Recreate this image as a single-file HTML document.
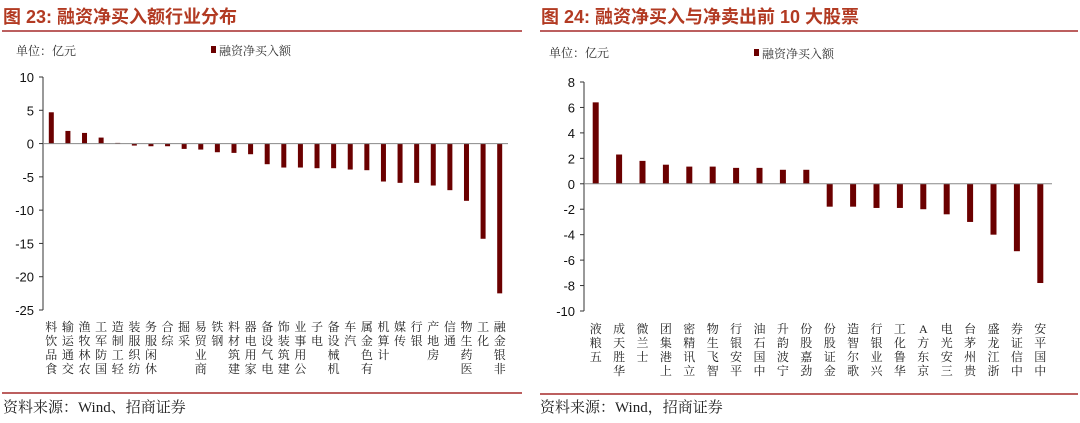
<!DOCTYPE html>
<html><head><meta charset="utf-8"><style>
body{margin:0;width:1080px;height:418px;background:#fff;overflow:hidden;font-family:"Liberation Sans","Noto Sans CJK SC",sans-serif;}
svg text{font-family:"Liberation Sans","Noto Sans CJK SC",sans-serif;}
svg text.serif{font-family:"Liberation Serif","Noto Serif CJK SC",serif;}
</style></head><body>
<svg width="1080" height="418">
<g>
<text x="3" y="23" font-size="18" font-weight="bold" fill="#b23a22">图 23:  融资净买入额行业分布</text>
<line x1="2" y1="31" x2="522" y2="31" stroke="#a52a2a" stroke-width="1.5"/>
<text class="serif" x="16" y="55" font-size="12" fill="#333">单位：亿元</text>
<rect x="211" y="46" width="5" height="7" fill="#6b0000"/>
<text class="serif" x="219" y="55" font-size="12" fill="#333">融资净买入额</text>
<g id="L"></g>
<line x1="2" y1="393" x2="522" y2="393" stroke="#a52a2a" stroke-width="1.5"/>
<text class="serif" x="3" y="412" font-size="15" fill="#222">资料来源：Wind、招商证券</text>
</g>
<g>
<text x="541" y="23" font-size="18" font-weight="bold" fill="#b23a22">图 24:  融资净买入与净卖出前 10 大股票</text>
<line x1="540" y1="31" x2="1078" y2="31" stroke="#a52a2a" stroke-width="1.5"/>
<text class="serif" x="549" y="57" font-size="12" fill="#333">单位：亿元</text>
<rect x="754" y="49" width="5" height="7" fill="#6b0000"/>
<text class="serif" x="762" y="58" font-size="12" fill="#333">融资净买入额</text>
<g id="R"></g>
<line x1="540" y1="394" x2="1078" y2="394" stroke="#a52a2a" stroke-width="1.5"/>
<text class="serif" x="540" y="412" font-size="15" fill="#222">资料来源：Wind，招商证券</text>
</g>
</svg>
<script>
const leftCategories=["食品饮料","交通运输","农林牧渔","国防军工","轻工制造","纺织服装","休闲服务","综合","采掘","商业贸易","钢铁","建筑材料","家用电器","电气设备","建筑装饰","公用事业","电子","机械设备","汽车","有色金属","计算机","传媒","银行","房地产","通信","医药生物","化工","非银金融"];
const leftValues=[4.7,1.9,1.6,0.9,0.1,-0.3,-0.4,-0.4,-0.8,-0.9,-1.3,-1.4,-1.6,-3.1,-3.6,-3.6,-3.7,-3.7,-3.9,-4.0,-5.7,-5.9,-5.9,-6.3,-7.0,-8.6,-14.3,-22.5];
const leftTicks=[10,5,0,-5,-10,-15,-20,-25];
const rightCategories=["五粮液","华胜天成","士兰微","上港集团","立讯精密","智飞生物","平安银行","中国石油","宁波韵升","劲嘉股份","金证股份","歌尔智造","兴业银行","华鲁化工","京东方A","三安光电","贵州茅台","浙江龙盛","中信证券","中国平安"];
const rightValues=[6.4,2.3,1.8,1.5,1.35,1.35,1.25,1.25,1.1,1.1,-1.8,-1.8,-1.9,-1.9,-2.0,-2.4,-3.0,-4.0,-5.3,-7.8];
const rightTicks=[8,6,4,2,0,-2,-4,-6,-8,-10];
const NS="http://www.w3.org/2000/svg";
function mk(tag,attrs,parent){const e=document.createElementNS(NS,tag);for(const k in attrs)e.setAttribute(k,attrs[k]);parent.appendChild(e);return e;}
function chart(g,cats,vals,ticks,x0,x1,yTop,yBot,labelTop,bw,prefix){
  const vmax=ticks[0],vmin=ticks[ticks.length-1];
  const y=v=>yTop+(vmax-v)/(vmax-vmin)*(yBot-yTop);
  const step=(x1-x0)/cats.length;
  const xc=i=>x0+step*(i+0.5);
  const ax=mk('line',{x1:x0,y1:yTop,x2:x0,y2:yBot,stroke:'#333','stroke-width':1},g);
  
  
  ticks.forEach(t=>{
    mk('line',{x1:x0-4,y1:y(t),x2:x0,y2:y(t),stroke:'#333'},g);
    const tx=mk('text',{x:x0-9,y:y(t)+5,'font-size':13,'text-anchor':'end',fill:'#111'},g);
    tx.textContent=t;
    
    
  });
  vals.forEach((v,i)=>{
    const r=mk('rect',{x:xc(i)-bw/2,y:Math.min(y(v),y(0)),width:bw,height:Math.abs(y(v)-y(0)),fill:'#6b0000'},g);
    
    
  });
  const zl=mk('line',{x1:x0,y1:y(0),x2:x1,y2:y(0),stroke:'#888','stroke-width':1},g);
  
  
  cats.forEach((c,i)=>{
    const chars=[...c].reverse();
    const tg=mk('g',{},g);
    
    
    chars.forEach((ch,j)=>{
      const t=mk('text',{class:'serif',x:xc(i),y:labelTop+12+j*14,'font-size':12,'text-anchor':'middle',fill:'#222'},tg);
      t.textContent=ch;
    });
  });
}
chart(document.getElementById('L'),leftCategories,leftValues,leftTicks,43,508,77,310,319,5,'left');
chart(document.getElementById('R'),rightCategories,rightValues,rightTicks,584,1052,82,311,321,6,'right');
</script>
</body></html>
